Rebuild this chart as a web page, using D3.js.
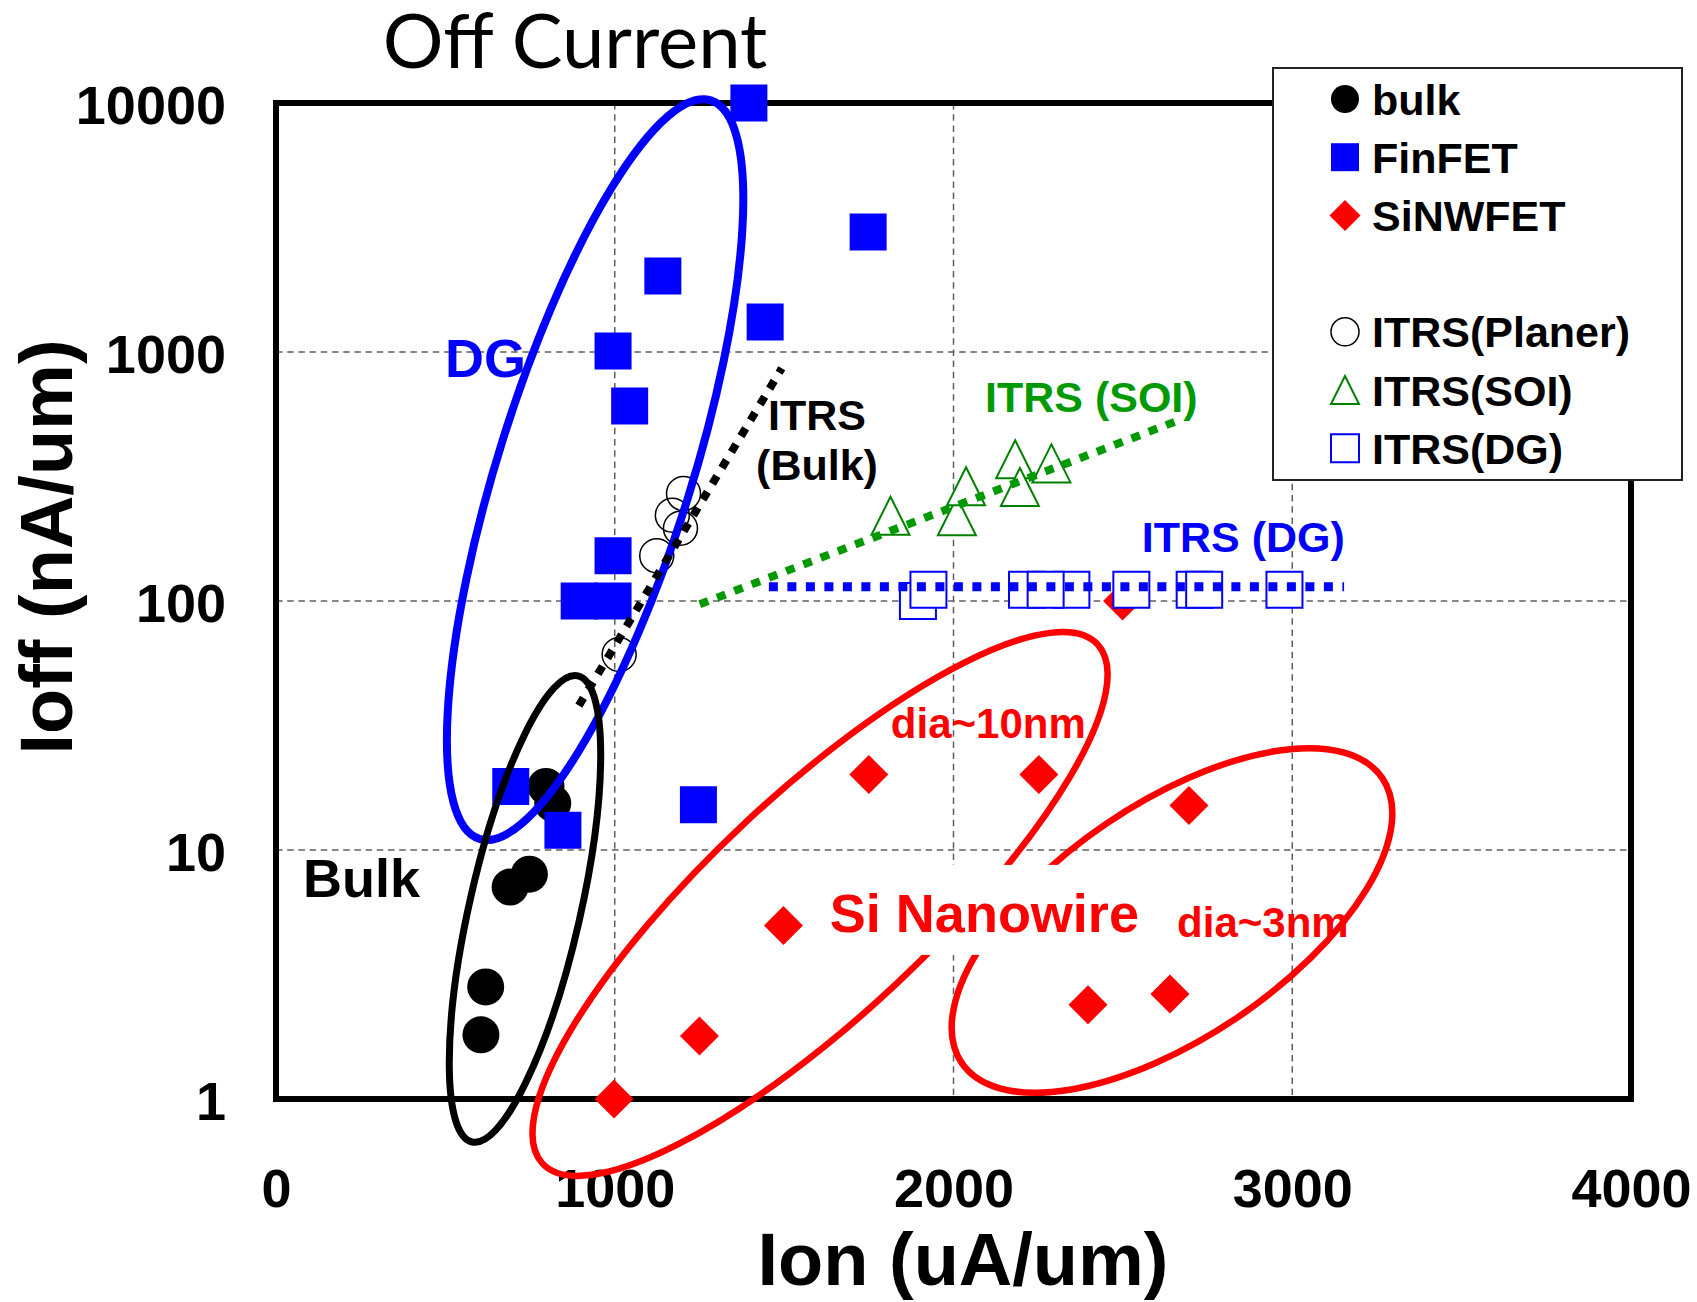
<!DOCTYPE html>
<html>
<head>
<meta charset="utf-8">
<script src="https://cdn.jsdelivr.net/npm/d3@7"></script>
<style>
body { margin: 0; background: #fff; }
svg { display: block; background: #fff; }
text { font-family: "Liberation Sans", Arial, sans-serif; font-weight: bold; }
</style>
</head>
<body>
<svg id="chart" width="1697" height="1302"></svg>
<script>
// values (Ion in uA/um, Ioff in nA/um)
const xTicks = [0, 1000, 2000, 3000, 4000];
const yTicks = [1, 10, 100, 1000, 10000];

const bulkIon = [605, 619, 691, 748, 797, 817];
const bulkIoff = [1.81, 2.82, 7.1, 8.0, 18, 15.4];

const finfetIon = [1396, 1748, 1142, 1444, 995, 1044, 995, 895, 995, 693, 847, 1247];
const finfetIoff = [10000, 3030, 2020, 1320, 1010, 607, 152, 100, 100, 18, 12, 15.2];

const sinwIon = [998, 1250, 1498, 1750, 2252, 2695, 2397, 2639, 2499];
const sinwIoff = [1, 1.79, 4.97, 20.1, 20.1, 15.1, 2.39, 2.64, 100];

const planerIon = [1013, 1124, 1170, 1194, 1203];
const planerIoff = [61, 152, 221, 196, 270];

const soiIon = [1814, 2010, 2037, 2182, 2196, 2289];
const soiIoff = [220, 219, 289, 371, 287, 357];

const dgIon = [1895, 1926, 2217, 2348, 2272, 2525, 2712, 2740, 2977];
const dgIoff = [100, 111, 111, 111, 111, 111, 111, 111, 111];

// ITRS trend lines, start and end points
const bulkTrendIon = [894, 1493];
const bulkTrendIoff = [38, 860];
const soiTrendIon = [1251, 2654];
const soiTrendIoff = [97, 525];
const dgTrendIon = [1455, 3153];
const dgTrendIoff = [114, 114];

const seriesNames = ["bulk", "FinFET", "SiNWFET", "ITRS(Planer)", "ITRS(SOI)", "ITRS(DG)"];

document.addEventListener("DOMContentLoaded", function() {
    const svg = d3.select("#chart");
    const plot = {left: 276, right: 1631, top: 103, bottom: 1099};

    const x = d3.scaleLinear().domain([0, 4000]).range([plot.left, plot.right]);
    const y = d3.scaleLog().domain([1, 10000]).range([plot.bottom, plot.top]);

    const zip = (a, b) => a.map((v, i) => [v, b[i]]);

    // marker shapes centred on 0,0
    function shape(kind, s) {
        const h = s / 2;
        if (kind === "circle") return d3.symbol(d3.symbolCircle, Math.PI * h * h)();
        if (kind === "square") return `M${-h},${-h}h${s}v${s}h${-s}Z`;
        if (kind === "diamond") return `M0,${-h}L${h},0L0,${h}L${-h},0Z`;
        return `M0,${-h}L${h},${h}L${-h},${h}Z`;
    }

    const series = [
        {name: seriesNames[0], pts: zip(bulkIon, bulkIoff), kind: "circle", size: 37, fill: "#000", stroke: "none", sw: 0},
        {name: seriesNames[1], pts: zip(finfetIon, finfetIoff), kind: "square", size: 37, fill: "#0000ff", stroke: "none", sw: 0},
        {name: seriesNames[2], pts: zip(sinwIon, sinwIoff), kind: "diamond", size: 39, fill: "#ff0000", stroke: "none", sw: 0},
        {name: seriesNames[3], pts: zip(planerIon, planerIoff), kind: "circle", size: 34, fill: "none", stroke: "#000", sw: 1.5},
        {name: seriesNames[4], pts: zip(soiIon, soiIoff), kind: "triangle", size: 38, fill: "#fff", stroke: "#008000", sw: 2},
        {name: seriesNames[5], pts: zip(dgIon, dgIoff), kind: "square", size: 36, fill: "#fff", stroke: "#0000ff", sw: 2}
    ];

    // grid
    const grid = svg.append("g").attr("stroke", "#606060").attr("stroke-width", 1.5)
        .attr("stroke-dasharray", "6.5 4.7");
    grid.selectAll(".gx").data(xTicks.slice(1, -1)).enter().append("line")
        .attr("x1", d => x(d)).attr("x2", d => x(d))
        .attr("y1", plot.top).attr("y2", plot.bottom);
    grid.selectAll(".gy").data(yTicks.slice(1, -1)).enter().append("line")
        .attr("y1", d => y(d)).attr("y2", d => y(d))
        .attr("x1", plot.left).attr("x2", plot.right);

    // axes
    const xAxis = svg.append("g").attr("transform", `translate(0,${plot.bottom})`)
        .call(d3.axisBottom(x).tickValues(xTicks).tickFormat(d3.format("d")).tickSize(0).tickPadding(70));
    const yAxis = svg.append("g").attr("transform", `translate(${plot.left},0)`)
        .call(d3.axisLeft(y).tickValues(yTicks).tickFormat(d3.format("d")).tickSize(0).tickPadding(50));
    [xAxis, yAxis].forEach(a => {
        a.select(".domain").remove();
        a.selectAll("text").attr("font-family", null).attr("font-size", 54)
            .attr("fill", "#000");
    });
    yAxis.selectAll("text").attr("dy", "0.38em");

    svg.append("rect")
        .attr("x", plot.left).attr("y", plot.top)
        .attr("width", plot.right - plot.left).attr("height", plot.bottom - plot.top)
        .attr("fill", "none").attr("stroke", "#000").attr("stroke-width", 6);

    // points
    series.forEach(s => {
        svg.append("g").selectAll("path").data(s.pts).enter().append("path")
            .attr("d", shape(s.kind, s.size))
            .attr("transform", d => `translate(${x(d[0])},${y(d[1])})`)
            .attr("fill", s.fill).attr("stroke", s.stroke).attr("stroke-width", s.sw);
    });

    // grouping ellipses: centre in data units, radii in px, angle in degrees
    const rings = [
        {c: [942, 337], rx: 387, ry: 97, a: -72.6, color: "#0000ff", w: 8},
        {c: [735, 5.8], rx: 239, ry: 55.5, a: -77.2, color: "#000", w: 7},
        {c: [1606, 6.07], rx: 380, ry: 110.5, a: -43.1, color: "#ff0000", w: 6.5},
        {c: [2645, 5.21], rx: 254, ry: 117, a: -34.1, color: "#ff0000", w: 6.5}
    ];
    svg.append("g").selectAll("ellipse").data(rings).enter().append("ellipse")
        .attr("transform", d => `translate(${x(d.c[0])},${y(d.c[1])}) rotate(${d.a})`)
        .attr("rx", d => d.rx).attr("ry", d => d.ry)
        .attr("fill", "none").attr("stroke", d => d.color).attr("stroke-width", d => d.w);

    // ITRS trend lines
    const line = d3.line().x(d => x(d[0])).y(d => y(d[1]));
    const trends = [
        {pts: zip(bulkTrendIon, bulkTrendIoff), color: "#000", w: 8},
        {pts: zip(soiTrendIon, soiTrendIoff), color: "#009900", w: 8},
        {pts: zip(dgTrendIon, dgTrendIoff), color: "#0000ff", w: 9}
    ];
    svg.append("g").selectAll("path").data(trends).enter().append("path")
        .attr("d", d => line(d.pts))
        .attr("fill", "none").attr("stroke", d => d.color).attr("stroke-width", d => d.w)
        .attr("stroke-dasharray", "9 9.5");

    // annotations, anchored in data units
    const notes = [
        {t: "DG", at: [499, 793], size: 54, color: "#0000ff"},
        {t: "ITRS", at: [1597, 486], size: 43, color: "#000", anchor: "middle"},
        {t: "(Bulk)", at: [1597, 306], size: 43, color: "#000", anchor: "middle"},
        {t: "ITRS (SOI)", at: [2093, 574], size: 43, color: "#009900"},
        {t: "ITRS (DG)", at: [2556, 157], size: 43, color: "#0000ff"},
        {t: "Bulk", at: [80, 6.48], size: 54, color: "#000"},
        {t: "dia~10nm", at: [1815, 28.2], size: 42, color: "#ff0000"},
        {t: "dia~3nm", at: [2660, 4.47], size: 42, color: "#ff0000"}
    ];
    const noteG = svg.append("g");
    notes.forEach(n => {
        noteG.append("text").attr("x", x(n.at[0])).attr("y", y(n.at[1]))
            .attr("font-size", n.size).attr("fill", n.color)
            .attr("text-anchor", n.anchor || "start").text(n.t);
    });

    // "Si Nanowire" sits on a white box that cuts the ellipses
    const siG = svg.append("g");
    const siText = siG.append("text").attr("x", x(1635)).attr("y", y(4.69))
        .attr("font-size", 54).attr("fill", "#ff0000").text("Si Nanowire");
    const bb = siText.node().getBBox();
    siG.insert("rect", "text")
        .attr("x", bb.x - 18).attr("y", bb.y - 18)
        .attr("width", bb.width + 40).attr("height", bb.height + 30)
        .attr("fill", "#fff");

    // titles
    svg.append("text").attr("x", 575).attr("y", 68).attr("text-anchor", "middle")
        .style("font-family", "Lato, 'Open Sans', sans-serif").style("font-weight", "normal")
        .attr("font-size", 76).text("Off Current");
    svg.append("text").attr("x", 963).attr("y", 1285).attr("text-anchor", "middle")
        .attr("font-size", 74).text("Ion (uA/um)");
    svg.append("text").attr("transform", "translate(72,547) rotate(-90)")
        .attr("text-anchor", "middle").attr("font-size", 74).text("Ioff (nA/um)");

    // legend
    const legend = svg.append("g");
    legend.append("rect").attr("x", 1273).attr("y", 68).attr("width", 409).attr("height", 412)
        .attr("fill", "#fff").attr("stroke", "#222").attr("stroke-width", 2);
    const rowIndex = [0, 1, 2, 4, 5, 6];
    series.forEach((s, i) => {
        const cy = 99 + rowIndex[i] * 58.2;
        legend.append("path")
            .attr("d", shape(s.kind, s.kind === "diamond" ? 31 : 28))
            .attr("transform", `translate(1345,${cy})`)
            .attr("fill", s.fill).attr("stroke", s.stroke).attr("stroke-width", s.sw);
        legend.append("text").attr("x", 1372).attr("y", cy + 15.5)
            .attr("font-size", 43).attr("fill", "#000").text(s.name);
    });
});
</script>
</body>
</html>
